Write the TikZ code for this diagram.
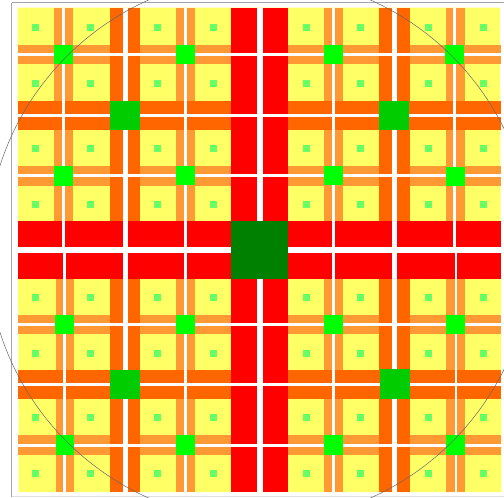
\documentclass[tikz,border=0pt]{standalone}
\usepackage{xcolor}
\usepackage{tikz}
\definecolor{amarillo}{RGB}{255,255,102}
\definecolor{naranjaclaro}{RGB}{255,153,51}
\definecolor{naranja}{RGB}{255,102,0}
\definecolor{rojo}{RGB}{255,0,0}
\definecolor{verdeoscuro}{RGB}{0,128,0}
\definecolor{verdemedio}{RGB}{0,204,0}
\definecolor{verdevivo}{RGB}{0,255,0}
\definecolor{verdeclaro}{RGB}{102,255,102}
\begin{document}
\begin{tikzpicture}[x=1pt, y=-1pt,
  marco/.style={draw=black!35, line width=0.9pt},
  borde/.style={draw=black!60, line width=0.5pt},
  hueco/.style={fill=white}]
  \clip (0,0) rectangle (504,498);
  \fill[white] (0,0) rectangle (504,498);
  \draw[marco] (11.5,2.5) -- (515,2.5);
  \draw[marco] (11.5,2.5) -- (11.5,496.5);
  \draw[draw=black!12, line width=0.8pt] (11.5,496.5) -- (515,496.5);
  % yellow field
  \fill[amarillo] (17.5,7.7) -- (500,7.7) -- (501.5,492) -- (18.7,492) -- cycle;
  % bars, from light to strong
  \foreach \xa/\xb/\ya/\yb in {54/73/7.7/221, 176/195/7.7/221, 324/343/7.7/221, 445.5/464.5/7.7/221,
                               55.5/74/279/492, 176/195/279/492, 324/343.3/279/492, 445.7/465/279/492}
    \fill[naranjaclaro] (\xa,\ya) rectangle (\xb,\yb);
  \foreach \ya/\yb in {45/64, 166/186, 315/334, 435.3/455}
    \fill[naranjaclaro] (17.8,\ya) rectangle (500.8,\yb);
  \foreach \xa/\xb in {110/139.7, 379.3/409.5}
    \fill[naranja] (\xa,7.7) rectangle (\xb,492);
  \foreach \ya/\yb in {100.7/129.5, 370/399}
    \fill[naranja] (17.5,\ya) rectangle (501,\yb);
  \fill[rojo] (231.3,7.7) rectangle (288,492);
  \fill[rojo] (18,220.7) rectangle (501,279);
  % white gaps
  \foreach \x/\w in {63.5/2.7, 185.5/2.7, 333.7/2.7, 454.7/2.7, 125/5, 394/5, 259.5/6}
    \fill[hueco] (\x-\w/2,7.7) rectangle (\x+\w/2,250);
  \foreach \x/\w in {64.5/2.4, 185.5/2.7, 333.7/2.7, 455.7/2.2, 125/5, 394.8/5, 259.5/6}
    \fill[hueco] (\x-\w/2,250) rectangle (\x+\w/2,492);
  \foreach \y/\w in {54.3/2.7, 115.3/2.8, 175.3/2.7, 250/6, 324.5/2.7, 384.7/3.2, 445.5/2.7}
    \fill[hueco] (17,\y-\w/2) rectangle (502,\y+\w/2);
  % green squares
  \foreach \xa/\xb/\ya/\yb in {54/73/45/64, 175.7/195/45/64, 324/343/45/64, 445/464.3/45/64,
                               54/73/166/186, 175.7/195/165.7/185, 324/342.7/165.7/185, 445.7/464.7/166.7/186,
                               54.5/74/315/334, 175.7/195/315/334, 324/343.3/315/334, 446/465/315/334,
                               56/74/435/455, 175.7/195/435.3/455.3, 324/343/435/455, 445.7/465/435/455}
    \fill[verdevivo] (\xa,\ya) rectangle (\xb,\yb);
  \foreach \xa/\xb/\ya/\yb in {110/140/100.7/130, 379/409/100.7/130, 110/140/369.5/399, 379.7/410/369/399}
    \fill[verdemedio] (\xa,\ya) rectangle (\xb,\yb);
  \fill[verdeoscuro] (231.3,220.7) rectangle (287.7,279);
  \foreach \x in {35,90,157.7,213.3,306,360.7,428.3,483.7}
    \foreach \y in {27.5,83.5,148,204.5,297,353,417.5,473.5}
      \fill[verdeclaro] (\x-3.5,\y-3.5) rectangle (\x+3.5,\y+3.5);
  % circle on top
  \draw[borde] (259.5,249) circle[radius=272.5pt];
\end{tikzpicture}
\end{document}
